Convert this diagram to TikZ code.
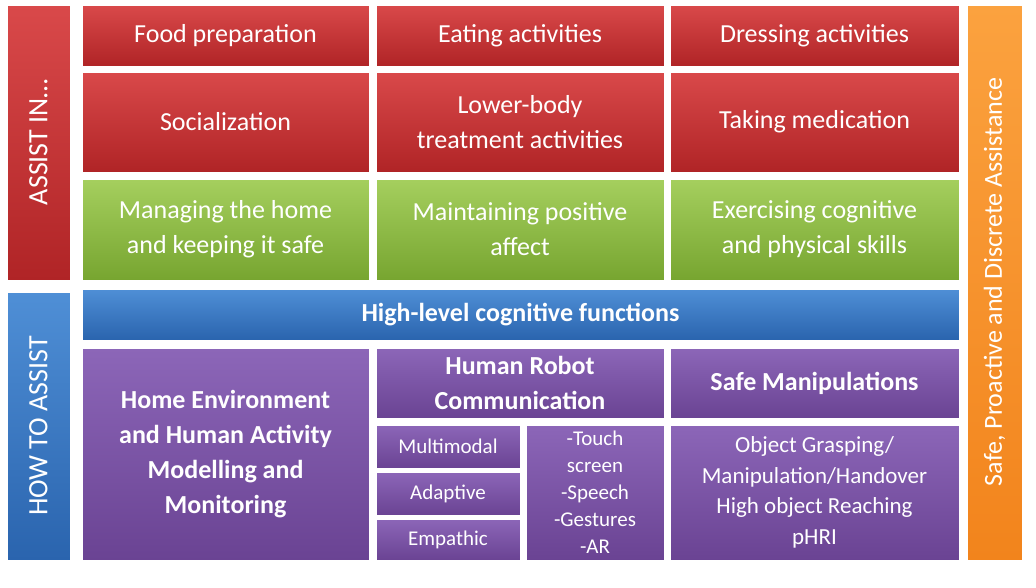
\documentclass[tikz,border=0pt]{standalone}
\usepackage{fontspec}
\setmainfont{Carlito}
\definecolor{redA}{HTML}{D9494A}\definecolor{redB}{HTML}{B02426}
\definecolor{grnA}{HTML}{A5CF5E}\definecolor{grnB}{HTML}{77A530}
\definecolor{bluA}{HTML}{4F8FD6}\definecolor{bluB}{HTML}{2A64AE}
\definecolor{purA}{HTML}{8C66B8}\definecolor{purB}{HTML}{6A4393}
\definecolor{orgA}{HTML}{FBA23F}\definecolor{orgB}{HTML}{F2841C}
\begin{document}
\begin{tikzpicture}[x=1pt,y=-1pt,
  bx/.style={draw=white,line width=0.8pt,text=white,align=center,inner sep=0pt},
  rb/.style={bx,top color=redA,bottom color=redB},
  gb/.style={bx,top color=grnA,bottom color=grnB},
  bb/.style={bx,top color=bluA,bottom color=bluB},
  pb/.style={bx,top color=purA,bottom color=purB},
  ob/.style={bx,top color=orgA,bottom color=orgB}]
\useasboundingbox (0,0) rectangle (1036,587);
\newcommand\bxx[5]{\path[#1] (#2) rectangle (#3) node[midway,text=white,align=center,font=\fontsize{26}{35}\selectfont] (#4) {#5};}
\path[rb] (7,5) rectangle (70,280);
\node[rotate=90,text=white,font=\fontsize{28}{30}\selectfont] (assistlbl) at (38.5,142) {ASSIST IN…};
\path[bb] (7,292) rectangle (70,560);
\node[rotate=90,text=white,font=\fontsize{28}{30}\selectfont] (howlbl) at (38.5,426) {HOW TO ASSIST};
\path[ob] (967,5) rectangle (1022,560);
\node[rotate=90,text=white,font=\fontsize{26}{30}\selectfont] (safelbl) at (994.5,282) {Safe, Proactive and Discrete Assistance};
\bxx{rb}{82,5}{369,66}{food}{Food preparation}
\bxx{rb}{376,5}{664,66}{eat}{Eating activities}
\bxx{rb}{670,5}{959,66}{dress}{Dressing activities}
\bxx{rb}{82,72}{369,172}{soc}{Socialization}
\bxx{rb}{376,72}{664,172}{lower}{Lower-body\\treatment activities}
\bxx{rb}{670,72}{959,172}{med}{Taking medication}
\bxx{gb}{82,179}{369,280}{home}{Managing the home\\and keeping it safe}
\bxx{gb}{376,179}{664,280}{pos}{Maintaining positive\\affect}
\bxx{gb}{670,179}{959,280}{exer}{Exercising cognitive\\and physical skills}
\path[bb] (82,289) rectangle (959,340) node[midway,text=white,font=\bfseries\fontsize{26}{30}\selectfont] (hl) {High-level cognitive functions};
\path[pb] (82,348) rectangle (369,560) node[midway,text=white,align=center,font=\bfseries\fontsize{26}{35}\selectfont] (env) {Home Environment\\and Human Activity\\Modelling and\\Monitoring};
\path[pb] (376,348) rectangle (664,418) node[midway,text=white,align=center,font=\bfseries\fontsize{26}{35}\selectfont] (hrc) {Human Robot\\Communication};
\path[pb] (670,348) rectangle (959,418) node[midway,text=white,font=\bfseries\fontsize{26}{30}\selectfont] (sm) {Safe Manipulations};
\path[pb] (376,425) rectangle (520,468) node[midway,text=white,font=\fontsize{21}{24}\selectfont] (mm) {Multimodal};
\path[pb] (376,472) rectangle (520,515) node[midway,text=white,font=\fontsize{21}{24}\selectfont] (ad) {Adaptive};
\path[pb] (376,519) rectangle (520,560) node[midway,text=white,font=\fontsize{21}{24}\selectfont] (em) {Empathic};
\path[pb] (526,425) rectangle (664,560) node[midway,text=white,align=center,font=\fontsize{21}{27}\selectfont] (ts) {-Touch\\screen\\-Speech\\-Gestures\\-AR};
\path[pb] (670,425) rectangle (959,560) node[midway,text=white,align=center,font=\fontsize{23}{30.5}\selectfont] (og) {Object Grasping/\\Manipulation/Handover\\High object Reaching\\pHRI};
\end{tikzpicture}
\end{document}
